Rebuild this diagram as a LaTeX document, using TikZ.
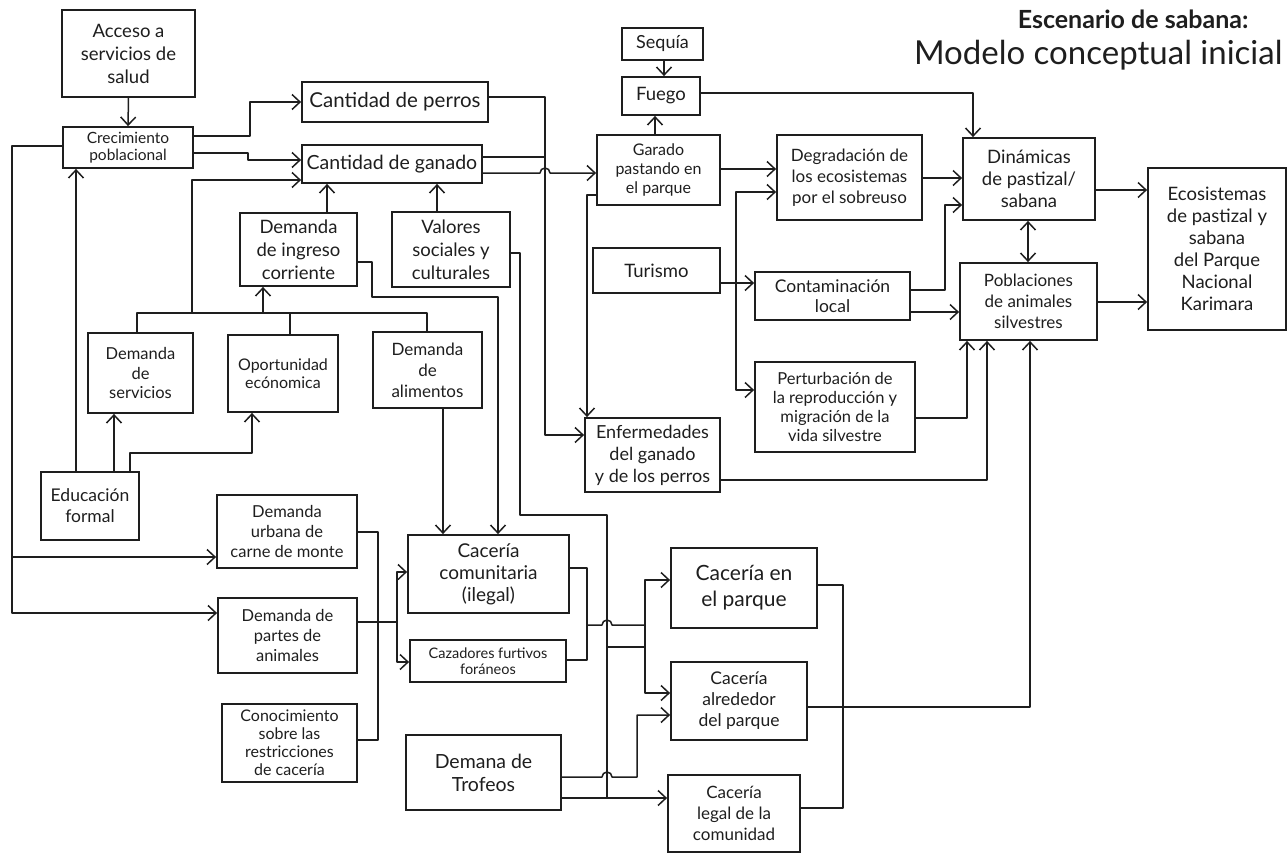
\documentclass[tikz,border=0pt]{standalone}
\usepackage{fontspec}
\setmainfont{Lato}
\usetikzlibrary{arrows.meta}
\definecolor{ink}{RGB}{30,30,30}
\begin{document}
\begin{tikzpicture}[x=1pt,y=-1pt,
  box/.style={draw=ink, line width=1.8pt, align=center, inner sep=1pt, text=ink},
  sz/.style 2 args={minimum width=#1pt, minimum height=#2pt},
  fs/.style 2 args={font=\fontsize{#1}{#2}\selectfont},
  link/.style={draw=ink, line width=1.5pt, line join=round},
  arr/.style={link, -{Straight Barb[length=8pt,width=15pt]}},
  both/.style={link, {Straight Barb[length=8pt,width=15pt]}-{Straight Barb[length=8pt,width=15pt]}},
]
\useasboundingbox (0,0) rectangle (1288,854);

% title
\node[text=ink, font=\fontsize{25}{28}\selectfont\bfseries, anchor=east] (t1) at (1252,19) {Escenario de sabana:};
\node[text=ink, font=\fontsize{33}{36}\selectfont, anchor=east] (t2) at (1286,55) {Modelo conceptual inicial};

% boxes
\node[box,sz={133}{87},fs={18.5}{23}] (acc) at (128.5,53.5) {Acceso a\\servicios de\\salud};
\node[box,sz={130}{41},fs={15.5}{17}] (crec) at (128,147.5) {Crecimiento\\poblacional};
\node[box,sz={186}{40},fs={20.5}{22}] (perros) at (395,102) {Cantidad de perros};
\node[box,sz={180}{38},fs={19.5}{22}] (ganado) at (392,164) {Cantidad de ganado};
\node[box,sz={117}{73},fs={18.5}{23}] (ingreso) at (298.5,249.5) {Demanda\\de ingreso\\corriente};
\node[box,sz={118}{75},fs={18.5}{23}] (valores) at (451,249.5) {Valores\\sociales y\\culturales};
\node[box,sz={81}{32},fs={18}{20}] (sequia) at (662.5,44) {Sequía};
\node[box,sz={78}{38},fs={18.5}{20}] (fuego) at (661,96) {Fuego};
\node[box,sz={123}{70},fs={16}{19}] (garado) at (658.5,170) {Garado\\pastando en\\el parque};
\node[box,sz={145}{85},fs={17}{21}] (degrad) at (849.5,177.5) {Degradación de\\los ecosistemas\\por el sobreuso};
\node[box,sz={132}{82},fs={18.5}{22}] (dinam) at (1029,179) {Dinámicas\\de pastizal/\\sabana};
\node[box,sz={138}{162},fs={18.5}{22}] (ecosis) at (1217,249) {Ecosistemas\\de pastizal y\\sabana\\del Parque\\Nacional\\Karimara};
\node[box,sz={127}{45},fs={18.5}{20}] (turismo) at (656.5,270.5) {Turismo};
\node[box,sz={155}{48},fs={17.5}{20}] (contam) at (832.5,296) {Contaminación\\local};
\node[box,sz={137}{77},fs={17}{21}] (poblac) at (1028.5,301.5) {Poblaciones\\de animales\\silvestres};
\node[box,sz={160}{90},fs={16.5}{19}] (perturb) at (835,407) {Perturbación de\\la reproducción y\\migración de la\\vida silvestre};
\node[box,sz={135}{74},fs={18}{22}] (enferm) at (652.5,455) {Enfermedades\\del ganado\\y de los perros};
\node[box,sz={105}{80},fs={16.5}{19.5}] (dserv) at (140.5,373) {Demanda\\de\\servicios};
\node[box,sz={110}{77},fs={16}{18}] (oport) at (283,373.5) {Oportunidad\\ecónomica};
\node[box,sz={109}{76},fs={17}{21}] (dalim) at (427.5,370) {Demanda\\de\\alimentos};
\node[box,sz={98}{68},fs={17.5}{21}] (educ) at (90,506) {Educación\\formal};
\node[box,sz={140}{73},fs={16.5}{20}] (durb) at (287,531.5) {Demanda\\urbana de\\carne de monte};
\node[box,sz={139}{75},fs={16.5}{20}] (dpart) at (287.5,635.5) {Demanda de\\partes de\\animales};
\node[box,sz={135}{78},fs={16}{18}] (conoc) at (289.5,743) {Conocimiento\\sobre las\\restricciones\\de cacería};
\node[box,sz={161}{78},fs={19}{22}] (ccom) at (488.5,574) {Cacería\\comunitaria\\(ilegal)};
\node[box,sz={156}{42},fs={14.5}{15.5}] (cfur) at (488,661) {Cazadores furtivos\\foráneos};
\node[box,sz={155}{75},fs={19.5}{23}] (trofeos) at (483.5,772.5) {Demana de\\Trofeos};
\node[box,sz={146}{80},fs={21}{26}] (cpar) at (744,588) {Cacería en\\el parque};
\node[box,sz={136}{78},fs={17.5}{21}] (calr) at (739,701) {Cacería\\alrededor\\del parque};
\node[box,sz={132}{77},fs={17}{21}] (cleg) at (734,813.5) {Cacería\\legal de la\\comunidad};

% junction points
\coordinate (wUrb) at (12,557);
\coordinate (busI) at (263,313);
\coordinate (busG) at (192,313);
\coordinate (vJ) at (607,647);
\coordinate (vEnd) at (607,798);
\coordinate (tJ) at (736,283);
\coordinate (hB) at (397,622);
\coordinate (iJ) at (587,625);
\coordinate (pB) at (645,625);

% population growth
\draw[arr] (acc.south) -- (crec.north);
\draw[arr] (crec.east |- 0,136) -- (250,136) -- (250,102) -- (perros.west |- 0,102);
\draw[arr] (crec.east |- 0,153) -- (248,153) -- (248,160) -- (ganado.west |- 0,160);
\draw[arr] (crec.west |- 0,146) -- (12,146) -- (12,613) -- (dpart.west |- 0,613);
\draw[arr] (wUrb) -- (durb.west |- wUrb);

% education
\draw[arr] (educ.north -| 76,0) -- (crec.south -| 76,0);
\draw[arr] (educ.north -| 114,0) -- (dserv.south -| 114,0);
\draw[arr] (educ.north -| 130,0) -- (130,453) -- (252,453) -- (oport.south -| 252,0);

% demands bus
\draw[link] (dserv.north -| 137,0) -- (137,313) -- (427,313) -- (dalim.north -| 427,0);
\draw[link] (oport.north -| 290,0) -- (290,313);
\draw[arr] (busI) -- (ingreso.south -| busI);
\draw[arr] (busG) -- (192,180) -- (ganado.west |- 0,180);
\draw[arr] (ingreso.north -| 327,0) -- (ganado.south -| 327,0);
\draw[arr] (valores.north -| 437,0) -- (ganado.south -| 437,0);
\draw[arr] (ingreso.east |- 0,262) -- (372,262) -- (372,297) -- (498,297) -- (ccom.north -| 498,0);
\draw[arr] (dalim.south -| 443,0) -- (ccom.north -| 443,0);

% social and cultural values
\draw[link] (valores.east |- 0,253) -- (520,253) -- (520,515) -- (607,515) -- (vEnd);
\draw[link] (vJ) -- (pB |- vJ);

% livestock and dogs
\draw[arr] (perros.east |- 0,97) -- (545,97) -- (545,435) -- (enferm.west |- 0,435);
\draw[link] (ganado.east |- 0,157) -- (545,157);
\draw[arr] (ganado.east |- 0,173) -- (540,173) arc[start angle=180,end angle=0,radius=5pt] -- (garado.west |- 0,173);
\draw[arr] (garado.west |- 0,195) -- (587,195) -- (enferm.north -| 587,0);

% fire and drought
\draw[arr] (garado.north -| 655,0) -- (fuego.south -| 655,0);
\draw[arr] (sequia.south -| 664,0) -- (fuego.north -| 664,0);
\draw[arr] (fuego.east |- 0,93) -- (973,93) -- (dinam.north -| 973,0);
\draw[arr] (garado.east |- 0,169) -- (degrad.west |- 0,169);
\draw[arr] (degrad.east |- 0,178) -- (dinam.west |- 0,178);

% tourism and wildlife
\draw[arr] (turismo.east |- tJ) -- (contam.west |- tJ);
\draw[arr] (tJ) -- (736,192) -- (degrad.west |- 0,192);
\draw[arr] (tJ) -- (736,390) -- (perturb.west |- 0,390);
\draw[arr] (contam.east |- 0,290) -- (945,290) -- (945,205) -- (dinam.west |- 0,205);
\draw[arr] (contam.east |- 0,312) -- (poblac.west |- 0,312);
\draw[arr] (perturb.east |- 0,418) -- (967,418) -- (poblac.south -| 967,0);
\draw[arr] (enferm.east |- 0,480) -- (987,480) -- (poblac.south -| 987,0);
\draw[both] (dinam.south -| 1028,0) -- (poblac.north -| 1028,0);
\draw[arr] (dinam.east |- 0,190) -- (ecosis.west |- 0,190);
\draw[arr] (poblac.east |- 0,302) -- (ecosis.west |- 0,302);

% hunting drivers
\draw[link] (durb.east |- 0,532) -- (378,532) -- (378,740) -- (conoc.east |- 0,740);
\draw[link] (dpart.east |- 0,622) -- (hB);
\draw[arr] (hB) |- (ccom.west |- 0,572);
\draw[arr] (hB) |- (cfur.west |- 0,662);

% hunting
\draw[link] (ccom.east |- 0,568) -- (587,568) -- (587,660) -- (cfur.east |- 0,660);
\draw[link] (iJ) -- (602,625) arc[start angle=180,end angle=0,radius=5pt] -- (pB);
\draw[arr] (pB) |- (cpar.west |- 0,580);
\draw[arr] (pB) |- (calr.west |- 0,693);
\draw[arr] (trofeos.east |- 0,777) -- (602,777) arc[start angle=180,end angle=0,radius=5pt] -- (637,777) -- (637,715) -- (calr.west |- 0,715);
\draw[arr] (trofeos.east |- 0,798) -- (cleg.west |- 0,798);
\draw[link] (cpar.east |- 0,585) -- (843,585) -- (843,808) -- (cleg.east |- 0,808);
\draw[arr] (calr.east |- 0,707) -- (1030,707) -- (poblac.south -| 1030,0);
\end{tikzpicture}
\end{document}
